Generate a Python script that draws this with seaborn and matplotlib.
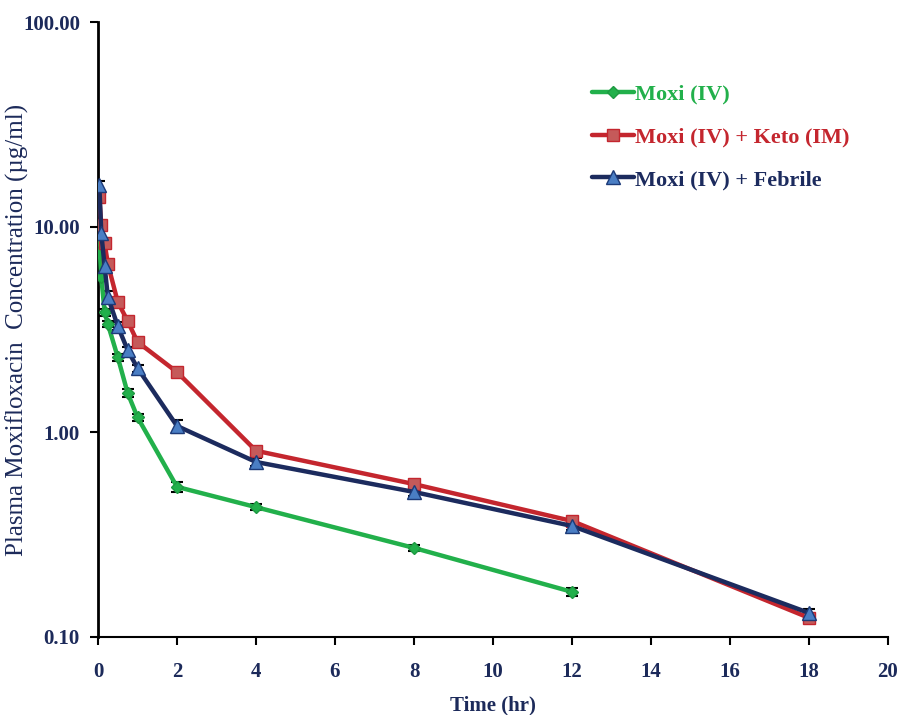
import numpy as np
import pandas as pd
import matplotlib
matplotlib.use("Agg")
import matplotlib.pyplot as plt
import seaborn as sns
from matplotlib.lines import Line2D

# ---- data ----
time_hr = [0.033, 0.083, 0.167, 0.25, 0.5, 0.75, 1, 2, 4, 8, 12, 18]
moxi_iv = [8.45, 5.70, 3.85, 3.36, 2.32, 1.55, 1.18, 0.54, 0.43, 0.272, 0.166, np.nan]
moxi_keto = [14.0, 10.2, 8.35, 6.6, 4.31, 3.48, 2.75, 1.96, 0.81, 0.557, 0.368, 0.124]
moxi_febrile = [16.0, 9.35, 6.45, 4.56, 3.29, 2.51, 2.05, 1.07, 0.714, 0.51, 0.348, 0.131]
moxi_iv_sd = [0.35, 0.25, 0.15, 0.12, 0.09, 0.075, 0.05, 0.03, 0.015, 0.008, 0.008, np.nan]
moxi_keto_sd = [0.5, 0.4, 0.3, 0.2, 0.12, 0.1, 0.08, 0.05, 0.02, 0.015, 0.01, 0.006]
moxi_febrile_sd = [0.8, 0.5, 0.35, 0.3, 0.15, 0.1, 0.08, 0.08, 0.03, 0.02, 0.015, 0.006]
series_names = ["Moxi (IV)", "Moxi (IV) + Keto (IM)", "Moxi (IV) + Febrile"]
y_ticks = [0.1, 1, 10, 100]
y_tick_labels = ["0.10", "1.00", "10.00", "100.00"]
x_ticks = [0, 2, 4, 6, 8, 10, 12, 14, 16, 18, 20]

sns.set_theme(style="white")
plt.rcParams['font.family'] = ['Liberation Serif', 'DejaVu Serif']

navy = '#1C2A5A'
styles = [
    dict(color='#22B04B', marker='D', mfc='#22B04B', mec='#1E9A42', ms=6),
    dict(color='#C4262E', marker='s', mfc='#C55A5A', mec='#C4262E', ms=8),
    dict(color='#1C2B5E', marker='^', mfc='#4A7EC4', mec='#1C3A78', ms=10),
]
values = [moxi_iv, moxi_keto, moxi_febrile]
sds = [moxi_iv_sd, moxi_keto_sd, moxi_febrile_sd]

fig = plt.figure(figsize=(9.09, 7.15), dpi=100)
ax = fig.add_axes([98/909, 1-637/715, (888-98)/909, (637-22)/715])

for name, vals, sd, st in zip(series_names, values, sds, styles):
    df = pd.DataFrame({"t": time_hr, "c": vals, "sd": sd}).dropna()
    ax.errorbar(df["t"], df["c"], yerr=df["sd"], fmt='none', ecolor='black',
                elinewidth=1.2, capsize=4, capthick=1.5, zorder=3)
    sns.lineplot(data=df, x="t", y="c", ax=ax, color=st['color'], lw=3.2,
                 marker=st['marker'], markersize=st['ms'],
                 markerfacecolor=st['mfc'], markeredgecolor=st['mec'],
                 markeredgewidth=1, zorder=4, legend=False)

ax.set_yscale('log')
ax.set_ylim(0.1, 100)
ax.set_xlim(0, 20)
ax.set_yticks(y_ticks)
ax.set_yticklabels(y_tick_labels)
ax.yaxis.set_minor_locator(matplotlib.ticker.NullLocator())
ax.set_xticks(x_ticks)
ax.set_xticklabels([str(v) for v in x_ticks])

for s in ['top', 'right']:
    ax.spines[s].set_visible(False)
ax.spines['left'].set_color('black')
ax.spines['left'].set_linewidth(2)
ax.spines['bottom'].set_color('black')
ax.spines['bottom'].set_linewidth(1.5)
ax.tick_params(axis='both', which='major', direction='out', length=6, width=1.5,
               color='black', labelsize=15, labelcolor=navy,
               left=True, bottom=True)
ax.tick_params(axis='y', pad=7)
ax.tick_params(axis='x', pad=12)
for lab in ax.get_xticklabels() + ax.get_yticklabels():
    lab.set_fontweight('bold')

ax.set_xlabel("Time (hr)", fontsize=15, fontweight='bold', color=navy, labelpad=10)
ax.set_ylabel("")
fig.text(17/909, 1-330/715, "Plasma Moxifloxacin  Concentration (µg/ml)",
         rotation=90, fontsize=18, color=navy, ha='center', va='center')
ax.grid(False)

handles = [Line2D([0], [0], color=st['color'], lw=3.2, marker=st['marker'],
                  markersize=st['ms'], markerfacecolor=st['mfc'],
                  markeredgecolor=st['mec']) for st in styles]
leg = fig.legend(handles, series_names, loc='upper left',
                 bbox_to_anchor=(572/909, 1-64/715), frameon=False,
                 prop={'size': 16, 'weight': 'bold'}, handlelength=1.9,
                 handletextpad=0.05, labelspacing=1.0)
for txt, st in zip(leg.get_texts(), styles):
    txt.set_color(st['color'])

fig.savefig("out.png", dpi=100)
